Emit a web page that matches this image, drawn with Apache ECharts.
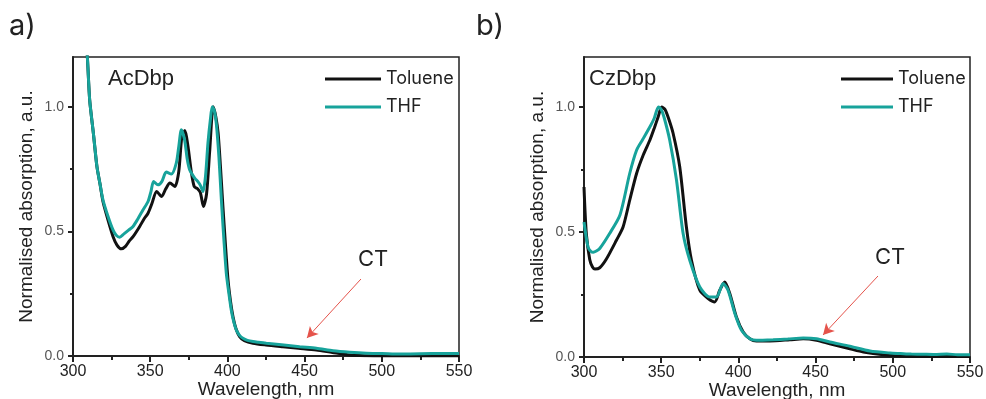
<!DOCTYPE html>
<html>
<head>
<meta charset="utf-8">
<script src="https://cdn.jsdelivr.net/npm/echarts@6/dist/echarts.min.js"></script>
<style>html,body{margin:0;padding:0;background:#fff;}#c{width:986px;height:399px;}</style>
</head>
<body>
<div id="c"></div>
<script>
// ---- Data ----
var xTicks = [300, 350, 400, 450, 500, 550];
var yTickLabels = [0, 0.5, 1.0];
var yMinorTicks = [0.25, 0.75];
var seriesNames = ['Toluene', 'THF'];
var panelLabels = ['a)', 'b)'];
var compoundNames = ['AcDbp', 'CzDbp'];
var ctLabel = 'CT';

// Panel a: AcDbp
var acTolX = [305, 308, 309.3, 310.8, 313.2, 315.5, 317.5, 319.4, 322.7, 325.9, 328.5, 331.3, 334, 336.5, 338.9, 343.2, 346, 348.6, 351, 354.2, 357.4, 360, 362.8, 366, 368.5, 370.5, 372.5, 374.5, 376.6, 378.5, 380.5, 382.5, 384.5, 386.5, 388.5, 390.8, 392.5, 394, 395.5, 397.1, 398.7, 400.4, 402, 403.6, 405.5, 407.9, 411, 416.6, 425, 436, 446, 457.6, 468, 479.2, 490, 500, 520, 550];
var acTolY = [1.5, 1.3, 1.2, 1.028, 0.894, 0.76, 0.69, 0.62, 0.545, 0.48, 0.445, 0.43, 0.44, 0.462, 0.479, 0.52, 0.55, 0.573, 0.61, 0.66, 0.64, 0.67, 0.694, 0.68, 0.74, 0.88, 0.905, 0.84, 0.74, 0.68, 0.672, 0.655, 0.6, 0.65, 0.82, 1.0, 0.96, 0.894, 0.76, 0.6, 0.45, 0.305, 0.22, 0.158, 0.11, 0.078, 0.062, 0.051, 0.044, 0.037, 0.031, 0.024, 0.014, 0.004, 0.001, 0.0, 0.0, 0.0];
var acThfX = [305, 308, 309.3, 310.8, 313.2, 315.5, 317.5, 319.4, 322.7, 325.9, 328, 330.2, 333, 336, 338.9, 342, 345.3, 348.6, 350.5, 352.2, 355, 357.5, 360.4, 363.7, 366.9, 368.5, 370.2, 372.3, 374, 375.6, 378.8, 380.9, 382.5, 384.2, 385.8, 387.4, 389, 390.2, 391.5, 392.8, 394.5, 396.1, 397.7, 399.3, 401, 402.5, 404, 405.8, 408, 410.1, 413, 416.6, 420, 425.2, 435, 446.8, 457.6, 468.4, 479.2, 490, 500, 511.6, 525, 540, 550];
var acThfY = [1.5, 1.3, 1.2, 1.028, 0.894, 0.76, 0.69, 0.627, 0.56, 0.506, 0.485, 0.477, 0.49, 0.505, 0.52, 0.55, 0.586, 0.62, 0.66, 0.7, 0.687, 0.7, 0.738, 0.73, 0.774, 0.84, 0.908, 0.867, 0.79, 0.747, 0.714, 0.7, 0.685, 0.66, 0.72, 0.854, 0.95, 1.0, 0.985, 0.934, 0.8, 0.626, 0.47, 0.332, 0.25, 0.185, 0.14, 0.104, 0.082, 0.071, 0.063, 0.058, 0.055, 0.051, 0.045, 0.037, 0.031, 0.021, 0.015, 0.011, 0.01, 0.008, 0.009, 0.01, 0.01];

// Panel b: CzDbp
var czTolX = [300, 301.5, 303.7, 305.5, 307.1, 310.2, 314.5, 321, 325.3, 329.6, 334.1, 338.5, 342.7, 345.5, 348, 350.3, 352.5, 355, 357.7, 362, 366.3, 369.6, 375, 380.4, 384.7, 387.9, 391.2, 394.4, 398.7, 403.1, 407.4, 411.7, 420.4, 433.3, 442, 450.6, 459.2, 472.2, 480.9, 493.8, 508.9, 530, 550];
var czTolY = [0.68, 0.494, 0.39, 0.36, 0.352, 0.357, 0.392, 0.467, 0.52, 0.627, 0.735, 0.81, 0.868, 0.915, 0.96, 1.0, 0.99, 0.95, 0.895, 0.761, 0.521, 0.387, 0.267, 0.234, 0.22, 0.267, 0.3, 0.254, 0.16, 0.1, 0.073, 0.064, 0.064, 0.069, 0.073, 0.067, 0.053, 0.033, 0.02, 0.009, 0.003, 0.002, 0.002];
var czThfX = [300, 302.6, 304.5, 306, 308, 310.2, 316.6, 323.3, 329.6, 334.1, 338, 342.7, 345.5, 348.2, 350, 351.8, 355.5, 359.9, 364.2, 368.5, 375, 381.5, 385.8, 390.1, 393.3, 397.7, 402, 407.4, 411.7, 422.5, 432, 442, 450.6, 459.2, 472.2, 485.2, 498.1, 505, 512, 519.7, 527, 535, 542, 550];
var czThfY = [0.54, 0.44, 0.422, 0.419, 0.424, 0.434, 0.494, 0.568, 0.734, 0.828, 0.87, 0.921, 0.955, 1.0, 0.99, 0.96, 0.868, 0.708, 0.494, 0.387, 0.28, 0.24, 0.24, 0.294, 0.267, 0.174, 0.107, 0.073, 0.067, 0.069, 0.072, 0.076, 0.073, 0.06, 0.043, 0.024, 0.016, 0.014, 0.012, 0.011, 0.01, 0.012, 0.009, 0.009];

// CT arrows (data coordinates): [startX, startY, endX, endY]
var ctArrowA = [486.5, 0.309, 451.5, 0.072];
var ctArrowB = [490.4, 0.324, 454.8, 0.088];

// ---- Chart ----
function pairs(xs, ys) { return xs.map(function (x, i) { return [x, ys[i]]; }); }

var BLACK = '#111111';
var TEAL = '#17a39b';
var AX = '#222222';
var FONT = 'Liberation Sans, Arial, sans-serif';
var FONT2 = 'Inter, Noto Sans, sans-serif';

var grids = [
  { left: 73, right: 527, top: 57, bottom: 43 },
  { left: 584, right: 16, top: 57, bottom: 42 }
];

function xAxisFor(g) {
  return {
    type: 'value', gridIndex: g, min: 300, max: 550, interval: 50,
    name: 'Wavelength, nm', nameLocation: 'middle', nameGap: 24, nameMoveOverlap: false,
    nameTextStyle: { fontFamily: FONT, fontSize: 19, color: '#222' },
    axisLine: { show: true, onZero: false, lineStyle: { color: AX, width: 2 } },
    axisTick: { show: true, inside: false, length: 6, lineStyle: { color: AX, width: 2 } },
    minorTick: { show: true, splitNumber: 2, length: 4, lineStyle: { color: AX, width: 2 } },
    axisLabel: { fontFamily: FONT, fontSize: 16, color: '#222', margin: 8,
      formatter: function (v) { return xTicks.indexOf(v) >= 0 ? String(v) : ''; } },
    splitLine: { show: false }, minorSplitLine: { show: false }
  };
}
function yAxisFor(g, gap) {
  return {
    type: 'value', gridIndex: g, min: 0, max: 1.2, position: 'left',
    name: 'Normalised absorption, a.u.', nameLocation: 'middle', nameGap: gap, nameRotate: 90,
    nameMoveOverlap: false,
    nameTextStyle: { fontFamily: FONT, fontSize: 19, color: '#222' },
    axisLine: { show: true, onZero: false, lineStyle: { color: AX, width: 2 } },
    axisTick: { show: true, length: 5, lineStyle: { color: AX, width: 2 }, customValues: yTickLabels },
    axisLabel: { fontFamily: FONT, fontSize: 14, color: '#555', margin: 9,
      customValues: yTickLabels,
      formatter: function (v) { return v.toFixed(1); } },
    splitLine: { show: false }
  };
}
function yMinorFor(g) {
  return {
    type: 'value', gridIndex: g, min: 0, max: 1.2, position: 'left',
    axisLine: { show: false },
    axisTick: { show: true, length: 3, lineStyle: { color: AX, width: 2 }, customValues: yMinorTicks },
    axisLabel: { show: false },
    splitLine: { show: false }
  };
}

function lineSeries(name, color, xi, yi, data, z) {
  return {
    name: name, type: 'line', xAxisIndex: xi, yAxisIndex: yi, data: data,
    showSymbol: false, symbol: 'none', smooth: 0.25, clip: true, z: z,
    lineStyle: { color: color, width: 3 }, itemStyle: { color: color },
    emphasis: { disabled: true }
  };
}
function arrow(arr) {
  return {
    silent: true, symbol: ['none', 'arrow'], symbolSize: [9, 11],
    lineStyle: { color: '#e5534b', width: 1, type: 'solid' },
    label: { show: false },
    emphasis: { disabled: true },
    data: [[{ coord: [arr[0], arr[1]] }, { coord: [arr[2], arr[3]] }]]
  };
}

var sA1 = lineSeries(seriesNames[0], BLACK, 0, 0, pairs(acTolX, acTolY), 2);
var sA2 = lineSeries(seriesNames[1], TEAL, 0, 0, pairs(acThfX, acThfY), 3);
sA2.markLine = arrow(ctArrowA);
var sB1 = lineSeries(seriesNames[0], BLACK, 1, 2, pairs(czTolX, czTolY), 2);
var sB2 = lineSeries(seriesNames[1], TEAL, 1, 2, pairs(czThfX, czThfY), 3);
sB2.markLine = arrow(ctArrowB);

function legendAt(left, w) {
  return {
    left: left, top: 65, orient: 'vertical', icon: 'rect',
    itemWidth: w, itemHeight: 3, itemGap: 10, selectedMode: false,
    textStyle: { fontFamily: FONT2, fontSize: 18, color: '#222' },
    data: seriesNames
  };
}

var chart = echarts.init(document.getElementById('c'), null, { renderer: 'canvas' });
chart.setOption({
  animation: false,
  backgroundColor: '#ffffff',
  grid: grids.map(function (g) {
    return Object.assign({ show: true, borderColor: AX, borderWidth: 1.5, backgroundColor: 'transparent',
      containLabel: false, outerBoundsMode: 'none' }, g);
  }),
  xAxis: [xAxisFor(0), xAxisFor(1)],
  yAxis: [yAxisFor(0, 37), yMinorFor(0), yAxisFor(1, 37), yMinorFor(1)],
  legend: [legendAt(320, 56), legendAt(836, 52)],
  series: [sA1, sA2, sB1, sB2],
  graphic: [
    { type: 'text', left: 9, top: 12, style: { text: panelLabels[0], font: '29px ' + FONT2, fill: '#222' } },
    { type: 'text', left: 476, top: 12, style: { text: panelLabels[1], font: '29px ' + FONT2, fill: '#222' } },
    { type: 'text', left: 108, top: 68, style: { text: compoundNames[0], font: '22px ' + FONT, fill: '#222' } },
    { type: 'text', left: 589, top: 68, style: { text: compoundNames[1], font: '22px ' + FONT, fill: '#222' } },
    { type: 'text', left: 358, top: 248, style: { text: ctLabel, font: '22px ' + FONT2, fill: '#222' } },
    { type: 'text', left: 875, top: 246, style: { text: ctLabel, font: '22px ' + FONT2, fill: '#222' } }
  ]
});
</script>
</body>
</html>
